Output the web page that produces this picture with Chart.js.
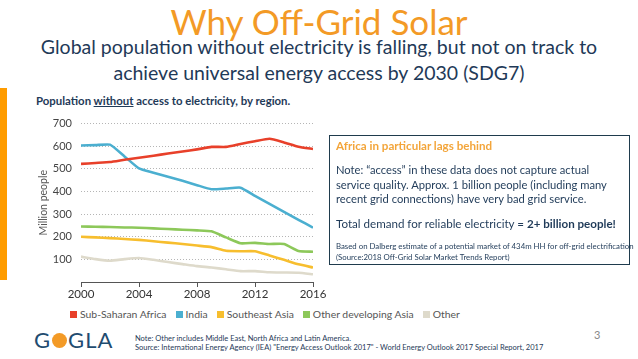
<!DOCTYPE html>
<html>
<head>
<meta charset="utf-8">
<script src="https://cdn.jsdelivr.net/npm/chart.js@4"></script>
<style>
  body { margin: 0; width: 638px; height: 359px; background: #fff; font-family: Lato, "Open Sans", sans-serif; overflow: hidden; position: relative; }
  .abs { position: absolute; white-space: nowrap; }
  #title { left: 0; width: 638px; top: 0; text-align: center; font-size: 35px; color: #F39A26; line-height: 42px; }
  #sub { left: 0; width: 638px; top: 34px; text-align: center; font-size: 19.5px; color: #1F3A58; line-height: 26px; }
  #bar { left: 0; top: 88px; width: 7px; height: 192px; background: #FF9C00; }
  #ctitle { left: 36px; top: 94px; font-size: 11.4px; font-weight: bold; color: #1F3A58; }
  #wrap { left: 37px; top: 108px; width: 295px; height: 196px; }
  #legend { left: 70px; top: 308px; font-size: 10.4px; color: #555; }
  #legend span.item { margin-right: 9px; }
  #legend i { display: inline-block; width: 7px; height: 7px; margin-right: 3px; }
  #box { left: 329px; top: 135px; width: 299px; height: 128px; border: 1.5px solid #1F3B4D; }
  .bt { position: absolute; left: 6px; white-space: nowrap; color: #1F3A58; }
  #logo { left: 34px; top: 326px; font-size: 22px; color: #1F4C70; letter-spacing: 1px; }
  #logo b { display: inline-block; width: 15px; height: 15px; border-radius: 50%; background: #F39A26; margin: 0 1px; }
  #foot { left: 135px; top: 335px; font-size: 7.5px; color: #1F3A58; line-height: 8.5px; }
  #page { left: 594px; top: 328px; font-size: 11px; color: #888; }
</style>
</head>
<body>
<div class="abs" id="title">Why Off-Grid Solar</div>
<div class="abs" id="sub">Global population without electricity is falling, but not on track to<br>achieve universal energy access by 2030 (SDG7)</div>
<div class="abs" id="bar"></div>
<div class="abs" id="ctitle">Population <u>without</u> access to electricity, by region.</div>
<div class="abs" id="wrap"><canvas id="chart"></canvas></div>
<div class="abs" id="legend"></div>
<div class="abs" id="box">
  <div class="bt" style="top:3px;font-size:11.6px;font-weight:bold;color:#F3A53A;">Africa in particular lags behind</div>
  <div class="bt" style="top:27px;font-size:11.2px;line-height:14.5px;">Note: “access” in these data does not capture actual<br>service quality. Approx. 1 billion people (including many<br>recent grid connections) have very bad grid service.</div>
  <div class="bt" style="top:81px;font-size:11.6px;">Total demand for reliable electricity = <b>2+ billion people!</b></div>
  <div class="bt" style="top:105px;font-size:7.8px;line-height:10.5px;">Based on Dalberg estimate of a potential market of 434m HH for off-grid electrification<br>(Source:2018 Off-Grid Solar Market Trends Report)</div>
</div>
<div class="abs" id="logo">G<b></b>GLA</div>
<div class="abs" id="foot">Note: Other includes Middle East, North Africa and Latin America.<br>Source: International Energy Agency (IEA) "Energy Access Outlook 2017" - World Energy Outlook 2017 Special Report, 2017</div>
<div class="abs" id="page">3</div>

<script>
const years = [2000, 2001, 2002, 2003, 2004, 2005, 2006, 2007, 2008, 2009, 2010, 2011, 2012, 2013, 2014, 2015, 2016];
const seriesNames = ['Sub-Saharan Africa', 'India', 'Southeast Asia', 'Other developing Asia', 'Other'];
const seriesColors = ['#E8402A', '#4BAFD0', '#F7BE2E', '#8DC85A', '#DEDACB'];

const subSaharanAfrica = [522, 526, 530, 540, 549, 558, 568, 577, 586, 597, 597, 610, 622, 633, 617, 598, 588];
const india = [603, 605, 607, 555, 502, 483, 465, 447, 428, 410, 413, 417, 381, 345, 310, 275, 240];
const southeastAsia = [200, 197, 194, 190, 186, 180, 174, 168, 161, 154, 138, 136, 136, 117, 98, 78, 64];
const otherDevelopingAsia = [245, 244, 243, 241, 240, 237, 234, 231, 228, 224, 197, 171, 173, 168, 168, 137, 134];
const other = [112, 101, 94, 101, 106, 98, 88, 79, 70, 64, 56, 48, 48, 43, 42, 41, 34];
const yTicks = [100, 200, 300, 400, 500, 600, 700];

const allSeries = [subSaharanAfrica, india, southeastAsia, otherDevelopingAsia, other];

// draw order: Other at the back, Sub-Saharan Africa on top
const datasets = allSeries.map((vals, i) => ({
    label: seriesNames[i],
    data: vals.map((v, j) => ({ x: years[j], y: v })),
    borderColor: seriesColors[i],
    backgroundColor: seriesColors[i],
    borderWidth: 2.6,
    pointRadius: 0,
    tension: 0.15,
    order: i
}));

new Chart(document.getElementById('chart').getContext('2d'), {
    type: 'line',
    data: { datasets: datasets },
    options: {
        responsive: true,
        maintainAspectRatio: false,
        animation: false,
        layout: { padding: { top: 14, right: 19, bottom: 0, left: 0 } },
        plugins: {
            legend: { display: false },
            tooltip: { enabled: false }
        },
        scales: {
            x: {
                type: 'linear',
                min: 2000,
                max: 2016,
                afterFit: s => { s.height = 22; s.paddingLeft = 0; s.paddingRight = 0; },
                ticks: {
                    stepSize: 4,
                    color: '#333',
                    font: { family: 'Lato', size: 11.5 },
                    padding: 0,
                    maxRotation: 0,
                    callback: v => String(v)
                },
                grid: { display: true, drawOnChartArea: false, drawTicks: true, tickLength: 5, color: '#555', lineWidth: 1 },
                border: { display: true, color: '#555', width: 1 }
            },
            y: {
                min: 0,
                max: 700,
                afterFit: s => { s.width = 44; },
                afterBuildTicks: s => { s.ticks = yTicks.map(v => ({ value: v })); },
                title: {
                    display: true,
                    text: 'Million people',
                    color: '#555',
                    font: { family: 'Lato', size: 10.5 },
                    padding: 0
                },
                ticks: {
                    color: '#444',
                    font: { family: 'Lato', size: 11 },
                    padding: 9
                },
                grid: { color: '#b5b5b5', lineWidth: 1, drawTicks: false },
                border: { display: false, dash: [1, 2] }
            }
        }
    }
});

// legend built from the same series arrays
document.getElementById('legend').innerHTML = seriesNames.map((n, i) =>
    '<span class="item"><i style="background:' + seriesColors[i] + '"></i>' + n + '</span>'
).join('');
</script>
</body>
</html>
